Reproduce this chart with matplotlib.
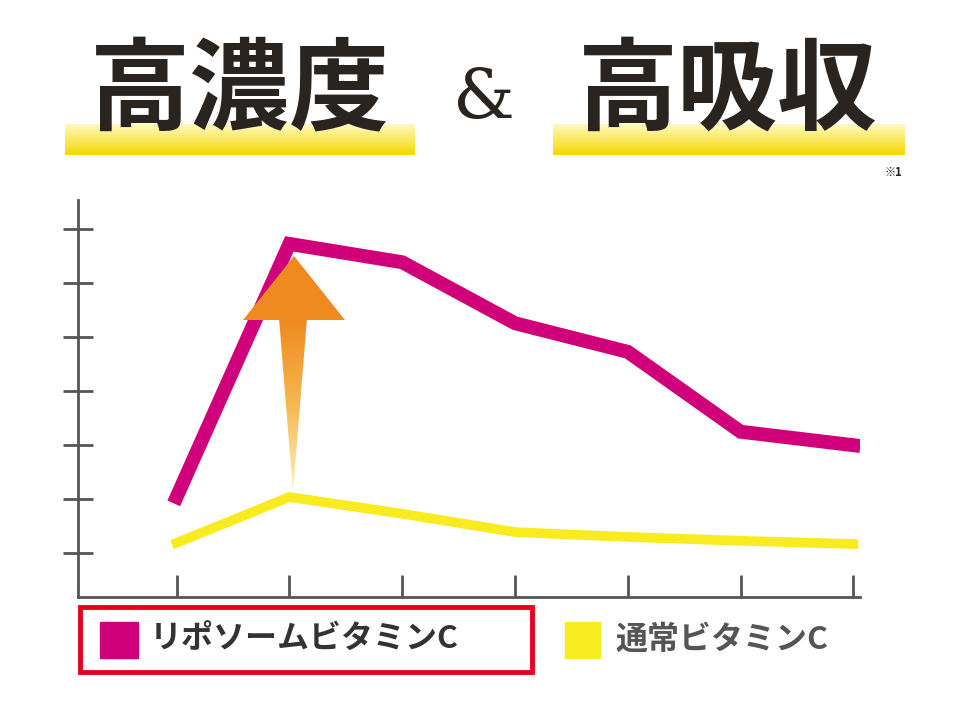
import numpy as np
import matplotlib.pyplot as plt
from matplotlib.patches import Rectangle, Polygon

plt.rcParams['font.family'] = ['Noto Sans CJK JP', 'DejaVu Sans']

x = [1, 2, 3, 4, 5, 6, 7]
liposome = [1.85, 6.54, 6.20, 5.07, 4.54, 3.06, 2.81]
normal = [1.00, 1.85, 1.54, 1.20, 1.11, 1.04, 0.98]
yticks = [0.815, 1.815, 2.815, 3.815, 4.815, 5.815, 6.815]
title_left = "高濃度"
title_right = "高吸収"
legend_labels = ["リポソームビタミンC", "通常ビタミンC"]

fig = plt.figure(figsize=(9.6, 7.2), dpi=100)

# overlay in pixel coords for decorations
ov = fig.add_axes([0, 0, 1, 1])
ov.set_xlim(0, 960)
ov.set_ylim(720, 0)
ov.axis('off')

# yellow highlight strips under title
grad = np.linspace(0, 1, 50).reshape(-1, 1)
ycm = plt.matplotlib.colors.LinearSegmentedColormap.from_list('y', ['#FFF9C0', '#F5D800'])
for x0, x1 in [(65, 415), (553, 905)]:
    ov.imshow(grad, extent=(x0, x1, 155, 124), cmap=ycm, aspect='auto', zorder=1)
ov.text(240, 92, title_left, ha='center', va='center', fontsize=72, fontweight='bold', color='#2a2420', zorder=2)
ov.text(484, 100, "&", ha='center', va='center', fontsize=50, color='#2a2420', family='DejaVu Serif', zorder=2)
ov.text(728, 92, title_right, ha='center', va='center', fontsize=72, fontweight='bold', color='#2a2420', zorder=2)
ov.text(893, 172, "※1", ha='center', va='center', fontsize=8, color='#222', fontweight='bold')

# legend
ov.add_patch(Rectangle((80, 607), 452, 65, fill=False, ec='#E8001C', lw=3.5))
ov.add_patch(Rectangle((100, 622), 38, 36, color='#D0007A'))
ov.text(150, 640, legend_labels[0], va='center', fontsize=23, fontweight='bold', color='#333')
ov.add_patch(Rectangle((565, 622), 35, 36, color='#F8EC20'))
ov.text(615, 640, legend_labels[1], va='center', fontsize=23, fontweight='bold', color='#555')

ax = fig.add_axes([0.081, 0.171, 0.815, 0.551])
ax.plot(x, liposome, color='#D0007A', lw=10, solid_joinstyle='miter', zorder=3)
ax.plot(x, normal, color='#F8EC20', lw=7, zorder=3)
ax.set_xlim(0.124, 7.06)
ax.set_ylim(0, 7.35)
ax.set_xticks(x)
ax.set_yticks(yticks)
ax.set_xticklabels([])
ax.set_yticklabels([])
for s in ['top', 'right']:
    ax.spines[s].set_visible(False)
for s in ['left', 'bottom']:
    ax.spines[s].set_color('#555')
    ax.spines[s].set_linewidth(2)
ax.tick_params(axis='y', direction='inout', length=22, width=2, color='#555')
ax.tick_params(axis='x', direction='in', length=16, width=2, color='#555')
ax.patch.set_alpha(0)

# arrow on top
ov2 = fig.add_axes([0, 0, 1, 1])
ov2.set_xlim(0, 960)
ov2.set_ylim(720, 0)
ov2.axis('off')
shaft = Polygon([(279, 318), (307, 318), (293, 492)], closed=True, fc='none', ec='none')
ov2.add_patch(shaft)
cm = plt.matplotlib.colors.LinearSegmentedColormap.from_list('o', ['#EE8A20', '#F6B850', '#FFF2C0'])
im = ov2.imshow(np.linspace(0, 1, 100).reshape(-1, 1), extent=(279, 307, 492, 318), cmap=cm, aspect='auto')
im.set_clip_path(shaft)
ov2.add_patch(Polygon([(243, 320), (345, 320), (294, 256)], closed=True, fc='#EE8A20', ec='none'))

fig.savefig('out.png', dpi=100)
